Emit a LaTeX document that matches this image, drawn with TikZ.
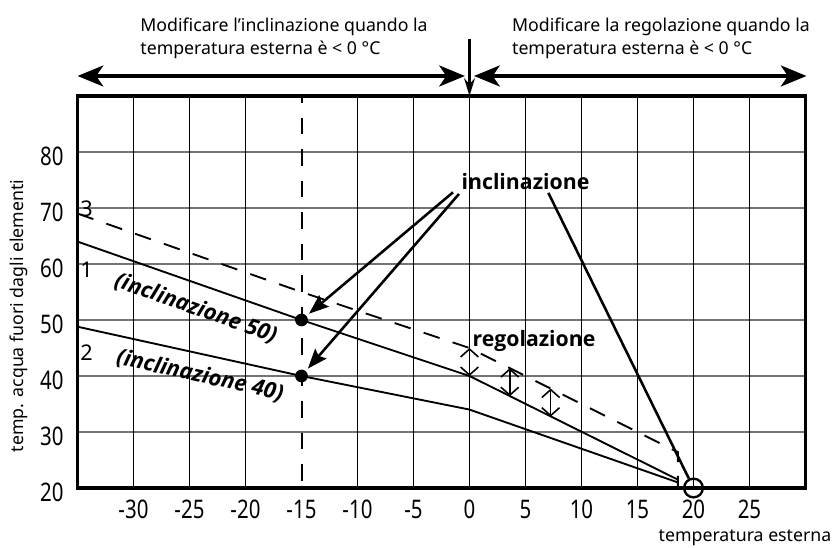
\documentclass[tikz,border=0pt]{standalone}
\usepackage{fontspec}
\setmainfont{Noto Sans}
\newfontfamily\numfont[FakeStretch=0.8]{Noto Sans}
\newfontfamily\labfont{Open Sans}
\usetikzlibrary{arrows.meta}
\begin{document}
\begin{tikzpicture}[x=0.2cm,y=0.1cm,
  vgrid/.style={line width=0.6pt, black},
  hgrid/.style={line width=0.6pt, black!55},
  frame/.style={line width=1.6pt},
  curve/.style={line width=0.95pt, line join=round},
  dcurve/.style={line width=0.95pt, dash pattern=on 8.5pt off 7pt},
  vdash/.style={line width=1.05pt, dash pattern=on 8.5pt off 7.5pt, dash phase=5pt},
  bigarrow/.style={line width=2.4pt, {Stealth[length=13pt,width=10.5pt,inset=3.5pt]}-{Stealth[length=13pt,width=10.5pt,inset=3.5pt]}},
  pointer/.style={line width=1.3pt, -{Stealth[length=10pt,width=7.5pt,inset=1.5pt]}, shorten >=1.5pt},
  dblarr/.style={line width=0.8pt, {Straight Barb[length=4pt,width=9pt]}-{Straight Barb[length=4pt,width=9pt]}},
  dotnode/.style={circle, fill=black, inner sep=0pt, minimum size=6.5pt},
  ticky/.style={anchor=east, font=\numfont\fontsize{13}{15}\selectfont, inner sep=0pt, yshift=-0.07cm},
  tickx/.style={anchor=center, font=\numfont\fontsize{13}{15}\selectfont, inner sep=0pt},
  small/.style={font=\fontsize{9}{11}\selectfont, inner sep=0pt},
  boldlab/.style={font=\labfont\bfseries\fontsize{10.8}{12}\selectfont, inner sep=0pt},
  itlab/.style={font=\labfont\bfseries\itshape\fontsize{11.2}{12}\selectfont, inner sep=0pt},
  curvenum/.style={font=\fontsize{11}{13}\selectfont, inner sep=0pt}
]
\useasboundingbox (-41.92,9.46) rectangle (32.545,107.14);

% grid
\foreach \t in {30,40,...,80} \draw[hgrid] (-35,\t) -- (30,\t);
\foreach \d in {-30,-25,-20,-10,-5,0,5,10,15,20,25} \draw[vgrid] (\d,20) -- (\d,90);
\draw[vdash] (-14.955,90) -- (-14.955,20);
\draw[frame] (-35,20) rectangle (30,90);

% tick labels
\foreach \t in {20,30,...,80} \node[ticky] (ty\t) at (-36.2,\t) {\t};
\foreach \d in {-30,-25,-20,-15,-10,-5,0,5,10,15,20,25} \node[tickx] (tx\d) at (\d,16.25) {\d};

% axis titles
\node[small, rotate=90] (ytitle) at (-40.2,50.73) {temp. acqua fuori dagli elementi};
\node[small, anchor=base] (xtitle) at (24.6,10.36) {temperatura esterna};

% top texts
\node[small, anchor=base west] (ta1) at (-29.42,101.43) {Modificare l’inclinazione quando la};
\node[small, anchor=base west] (ta2) at (-29.42,97.32) {temperatura esterna è < 0 °C};
\node[small, anchor=base west] (tb1) at (3.77,101.43) {Modificare la regolazione quando la};
\node[small, anchor=base west] (tb2) at (3.77,97.32) {temperatura esterna è < 0 °C};

% top arrows
\coordinate (la) at (-35,93.57);
\coordinate (lb) at (-0.4,93.57);
\coordinate (ra) at (0.4,93.57);
\coordinate (rb) at (30.1,93.57);
\coordinate (va) at (0,100.2);
\coordinate (vb) at (0,90);
\draw[bigarrow] (la) -- (lb);
\draw[bigarrow] (ra) -- (rb);
\draw[line width=1.1pt, -{Stealth[length=9pt,width=5.5pt]}] (va) -- (vb);

% curves
\draw[curve] (-35,64) -- (-15,50) -- (0,40) -- (18.6,21.5) -- (18.6,19.8);
\draw[curve] (-35,48.8) -- (-15,40) -- (0,34) -- (18.6,21.0);
\draw[dcurve] (-35,69) -- (-15,55) -- (0,45) -- (18.6,26.4) -- (18.6,21.5);

% points
\node[dotnode] (p50) at (-15,50) {};
\node[dotnode] (p40) at (-15,40) {};
\node[circle, draw, line width=1.2pt, inner sep=0pt, minimum size=9.5pt] (c20) at (20,20) {};

% regolazione arrows
\draw[dblarr] (0,40) -- (0,45);
\draw[dblarr] (3.6,36.4) -- (3.6,41.4);
\draw[dblarr] (7.25,32.75) -- (7.25,37.75);

% labels
\node[boldlab, anchor=base] (incl) at (5.0,73.34) {inclinazione};
\node[boldlab, anchor=base] (rego) at (5.76,45.23) {regolazione};
\node[itlab, rotate=-19.3] (i50) at (-24.44,52.09) {(inclinazione 50)};
\node[itlab, rotate=-12.5] (i40) at (-24.06,40.04) {(inclinazione 40)};
\node[curvenum] (n3) at (-34.18,69.82) {3};
\node[curvenum] (n1) at (-34.18,58.93) {1};
\node[curvenum] (n2) at (-34.18,44.11) {2};

% pointers
\coordinate (s1) at (-1.47,72.8);
\coordinate (s2) at (-0.94,72.5);
\coordinate (s3) at (7.04,72.7);
\draw[pointer] (s1) -- (p50);
\draw[pointer] (s2) -- (p40);
\draw[line width=1.3pt] (s3) -- (c20);
\end{tikzpicture}
\end{document}
